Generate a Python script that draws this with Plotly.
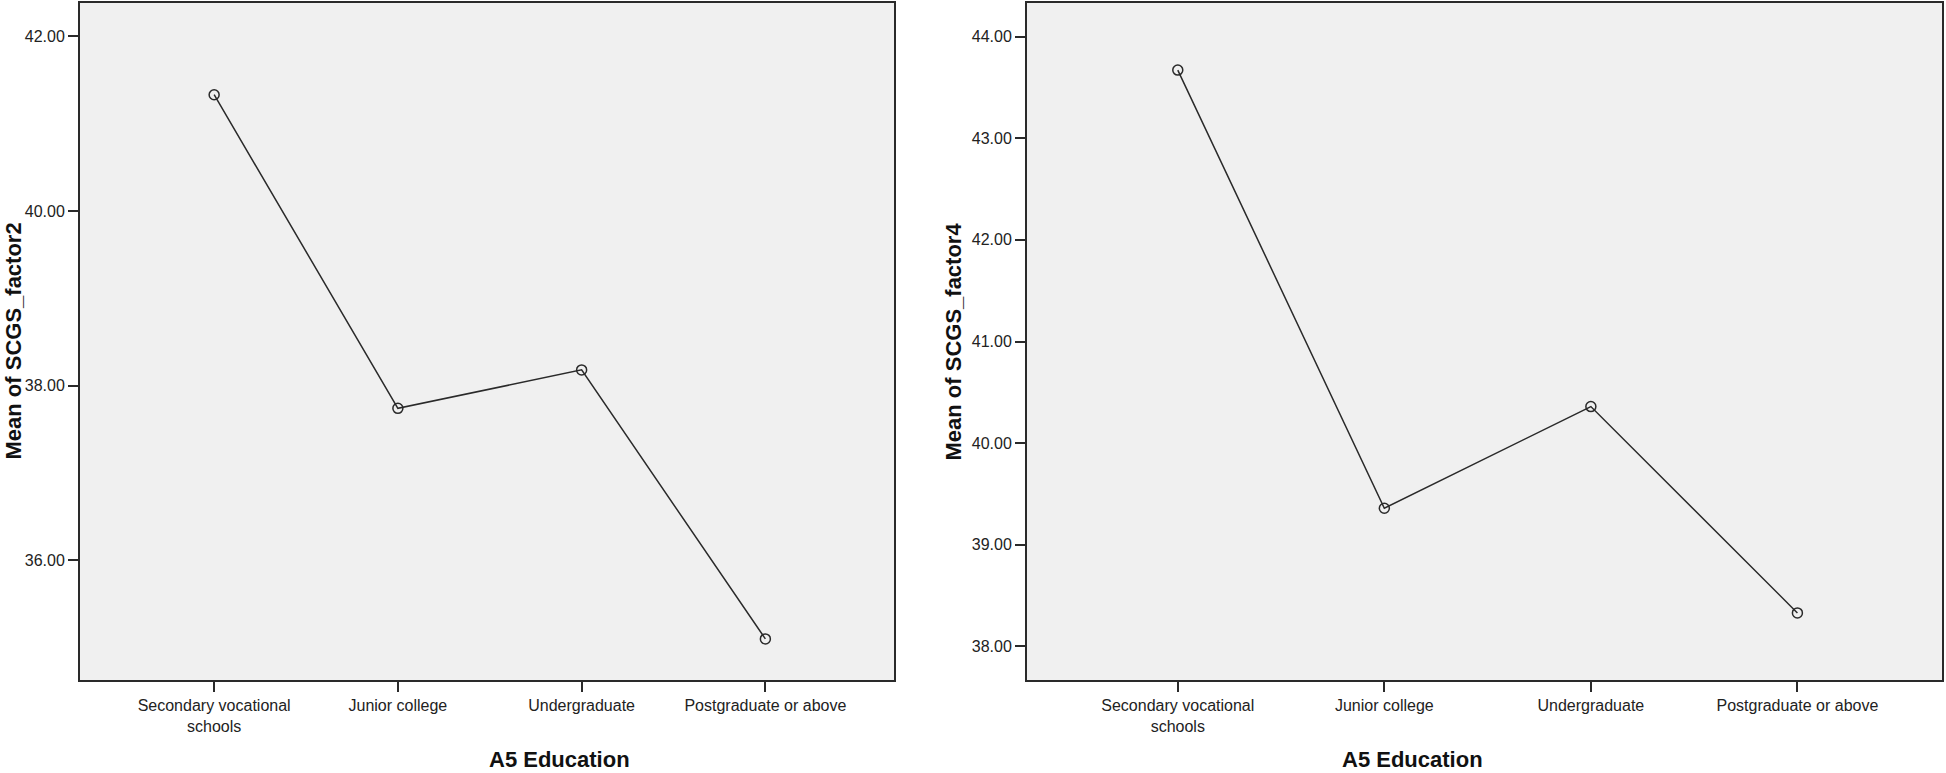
import plotly.graph_objects as go

categories = ["Secondary vocational<br>schools", "Junior college", "Undergraduate", "Postgraduate or above"]
factor2_means = [41.33, 37.74, 38.18, 35.10]
factor4_means = [43.67, 39.36, 40.36, 38.33]
y1_ticks = [36.0, 38.0, 40.0, 42.0]
y2_ticks = [38.0, 39.0, 40.0, 41.0, 42.0, 43.0, 44.0]
x_title = "A5 Education"
y1_title = "Mean of SCGS_factor2"
y2_title = "Mean of SCGS_factor4"

W, H = 1946, 773
FONT = "Arial, Liberation Sans, sans-serif"
LINE = "#2a2a2a"

fig = go.Figure()
xpos = list(range(len(categories)))
for ys, xa, ya in [(factor2_means, "x", "y"), (factor4_means, "x2", "y2")]:
    fig.add_trace(go.Scatter(x=xpos, y=ys, mode="lines+markers",
                             line=dict(color=LINE, width=1.5),
                             marker=dict(symbol="circle-open", size=10, color=LINE,
                                         line=dict(width=1.5)),
                             xaxis=xa, yaxis=ya, showlegend=False))

def px_x(p):
    return p / W

def px_y(p):
    return 1 - p / H

ydom = [px_y(680), px_y(3)]
xdom1 = [px_x(80), px_x(894)]
xdom2 = [px_x(1027), px_x(1942)]

def axis_common(size):
    return dict(showgrid=False, zeroline=False, showline=True, mirror=True,
                linecolor=LINE, linewidth=2, ticks="outside", ticklen=10,
                tickwidth=2, tickcolor=LINE,
                tickfont=dict(family=FONT, size=size, color="#222"))

fig.update_layout(
    width=W, height=H,
    margin=dict(l=0, r=0, t=0, b=0),
    paper_bgcolor="white",
    plot_bgcolor="#f0f0f0",
    xaxis=dict(domain=xdom1, range=[-0.73, 3.70], tickmode="array", tickvals=xpos,
               ticktext=categories, anchor="y", **axis_common(16)),
    yaxis=dict(domain=ydom, range=[34.63, 42.38], tickmode="array", tickvals=y1_ticks,
               ticktext=[f"{v:.2f}" for v in y1_ticks], anchor="x", **axis_common(16)),
    xaxis2=dict(domain=xdom2, range=[-0.73, 3.70], tickmode="array", tickvals=xpos,
                ticktext=categories, anchor="y2", **axis_common(16)),
    yaxis2=dict(domain=ydom, range=[37.67, 44.33], tickmode="array", tickvals=y2_ticks,
                ticktext=[f"{v:.2f}" for v in y2_ticks], anchor="x2", **axis_common(16)),
)

title_font = dict(family=FONT, size=22, color="#111")
annotations = [
    dict(text=f"<b>{x_title}</b>", x=(xdom1[0] + xdom1[1]) / 2, y=px_y(759),
         xref="paper", yref="paper", showarrow=False, font=title_font, yanchor="middle"),
    dict(text=f"<b>{x_title}</b>", x=(xdom2[0] + xdom2[1]) / 2, y=px_y(759),
         xref="paper", yref="paper", showarrow=False, font=title_font, yanchor="middle"),
    dict(text=f"<b>{y1_title}</b>", x=px_x(13), y=(ydom[0] + ydom[1]) / 2,
         xref="paper", yref="paper", showarrow=False, font=title_font, textangle=-90,
         xanchor="center"),
    dict(text=f"<b>{y2_title}</b>", x=px_x(953), y=(ydom[0] + ydom[1]) / 2,
         xref="paper", yref="paper", showarrow=False, font=title_font, textangle=-90,
         xanchor="center"),
]
fig.update_layout(annotations=annotations)

fig.write_html("out.html", config={"displayModeBar": False},
               post_script="document.body.style.margin='0';")
